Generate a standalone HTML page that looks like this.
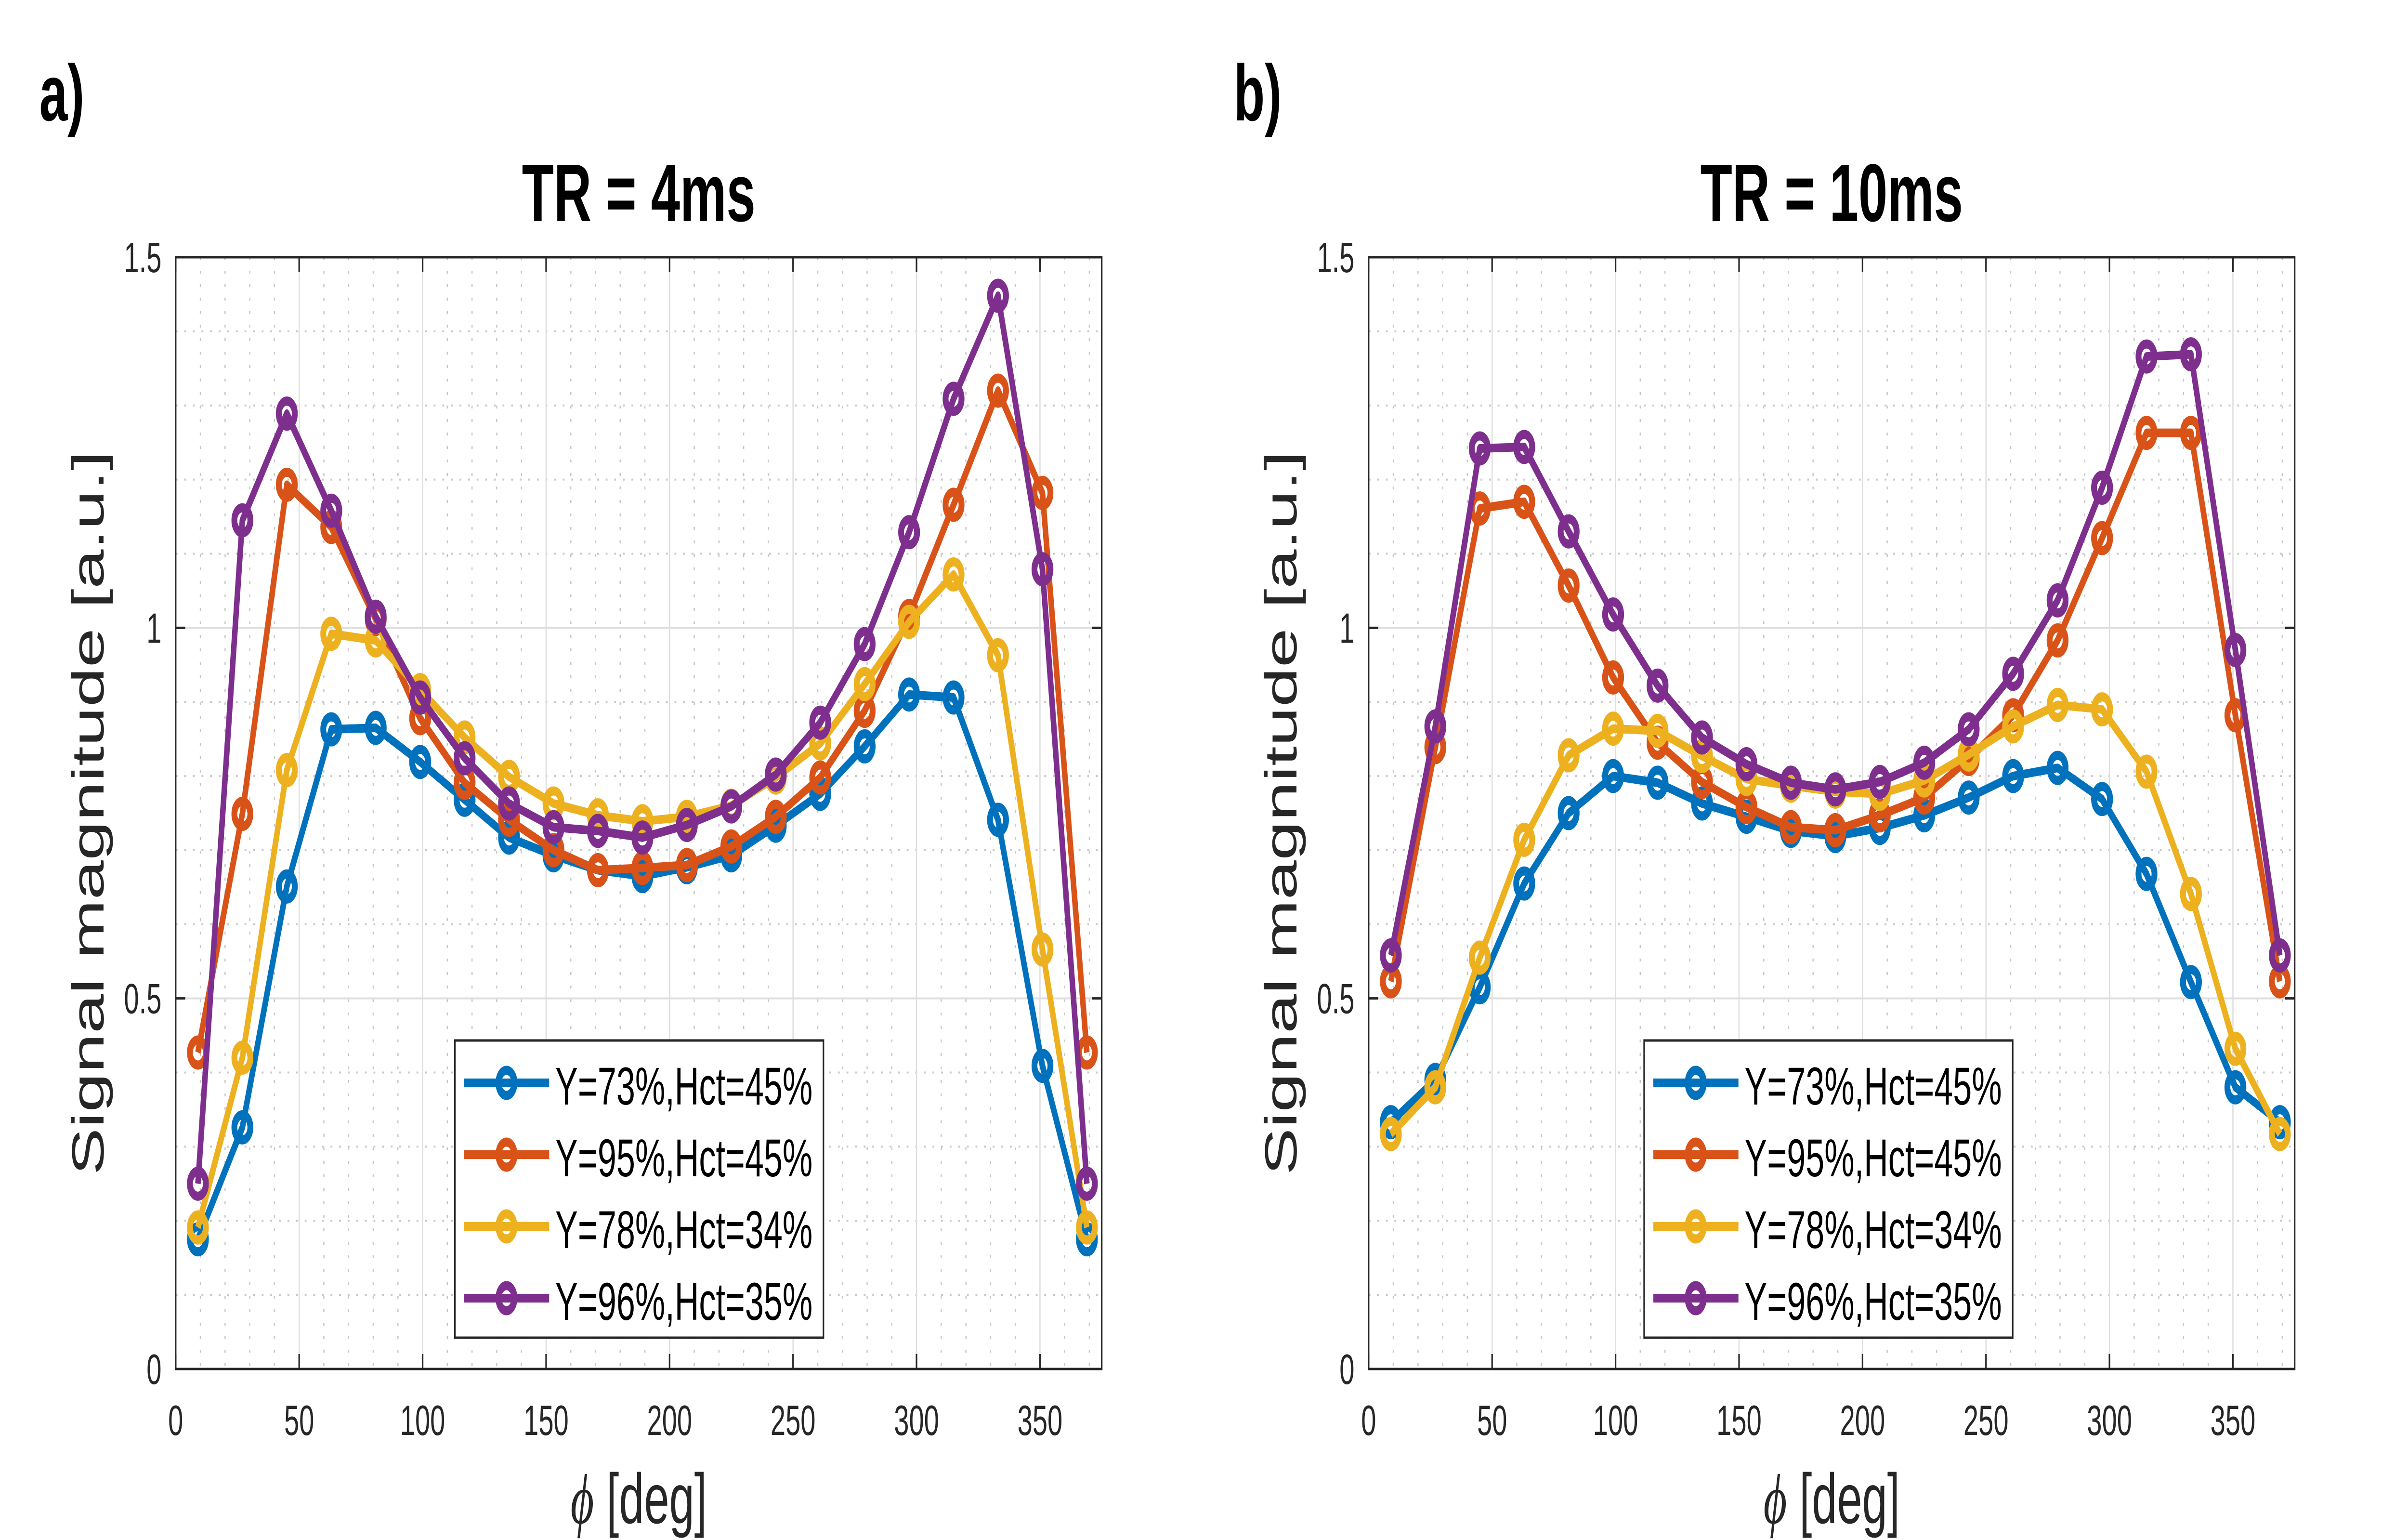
<!DOCTYPE html>
<html><head><meta charset="utf-8"><style>
html,body{margin:0;padding:0;background:#fff;width:100%;height:100%;overflow:hidden}
svg{display:block;width:100vw;height:100vh}
text{font-family:"Liberation Sans",Arial,sans-serif}
</style></head><body>
<svg id="fig" xmlns="http://www.w3.org/2000/svg" viewBox="0 0 7840 3197" preserveAspectRatio="none">
<rect width="7840" height="3197" fill="#fff"/>
</svg>
<script>
const phiDeg = [9,27,45,63,81,99,117,135,153,171,189,207,225,243,261,279,297,315,333,351,369];
const seriesNames = ["Y=73%,Hct=45%","Y=95%,Hct=45%","Y=78%,Hct=34%","Y=96%,Hct=35%"];
const xTicks = [0,50,100,150,200,250,300,350];
const yTicks = [0,0.5,1,1.5];
const yTickLabels = ["0","0.5","1","1.5"];
const tr4Blue   = [0.175,0.326,0.651,0.863,0.865,0.819,0.768,0.717,0.693,0.673,0.665,0.677,0.693,0.733,0.776,0.840,0.910,0.906,0.741,0.409,0.175];
const tr4Orange = [0.427,0.749,1.193,1.136,1.012,0.878,0.791,0.741,0.700,0.673,0.676,0.680,0.705,0.745,0.798,0.888,1.016,1.166,1.320,1.182,0.427];
const tr4Yellow = [0.191,0.420,0.808,0.992,0.983,0.916,0.852,0.799,0.763,0.747,0.739,0.745,0.760,0.798,0.844,0.924,1.008,1.072,0.963,0.566,0.191];
const tr4Purple = [0.250,1.145,1.289,1.158,1.015,0.906,0.824,0.763,0.731,0.726,0.717,0.734,0.759,0.802,0.872,0.978,1.129,1.309,1.448,1.079,0.250];
const tr10Blue   = [0.333,0.390,0.515,0.655,0.750,0.800,0.791,0.763,0.745,0.726,0.719,0.730,0.747,0.771,0.800,0.811,0.769,0.668,0.522,0.380,0.333];
const tr10Orange = [0.523,0.839,1.161,1.170,1.057,0.933,0.845,0.792,0.758,0.731,0.727,0.747,0.771,0.823,0.882,0.983,1.121,1.263,1.263,0.882,0.523];
const tr10Yellow = [0.317,0.380,0.555,0.714,0.828,0.864,0.861,0.827,0.796,0.787,0.779,0.776,0.794,0.829,0.867,0.896,0.890,0.806,0.641,0.432,0.317];
const tr10Purple = [0.558,0.867,1.242,1.244,1.130,1.018,0.922,0.852,0.816,0.791,0.782,0.792,0.818,0.863,0.938,1.037,1.189,1.366,1.369,0.970,0.558];

const colors = ["#0072BD","#D95319","#EDB120","#7E2F8E"];
const NS = "http://www.w3.org/2000/svg";
const svg = document.getElementById("fig");
function mk(tag, attrs, parent){const e=document.createElementNS(NS,tag);for(const k in attrs)e.setAttribute(k,attrs[k]);(parent||svg).appendChild(e);return e;}

function panel(cfg){
  const L=cfg.left, R=L+3015, T=534, B=2842;
  const xs=v=>L+(v/375)*(R-L);
  const ys=v=>B-(v/1.5)*(B-T);
  const g=mk("g",{});
  
  
  for(let v=10;v<375;v+=10){ if(v%50===0) continue;
    const l=mk("line",{x1:xs(v),x2:xs(v),y1:T,y2:B,stroke:"#c8c8c8","stroke-width":4,"stroke-dasharray":"6 22"},g);
     }
  for(let i=1;i<15;i++){ if(i%5===0) continue; const v=i/10;
    const l=mk("line",{x1:L,x2:R,y1:ys(v),y2:ys(v),stroke:"#c8c8c8","stroke-width":4,"stroke-dasharray":"6 22"},g);
     }
  xTicks.forEach(v=>{const l=mk("line",{x1:xs(v),x2:xs(v),y1:T,y2:B,stroke:"#dedede","stroke-width":4},g);
     });
  yTicks.forEach(v=>{const l=mk("line",{x1:L,x2:R,y1:ys(v),y2:ys(v),stroke:"#dedede","stroke-width":4},g);
     });
  cfg.data.forEach((arr,si)=>{
    const pts=arr.map((v,i)=>xs(phiDeg[i])+","+ys(v)).join(" ");
    const pl=mk("polyline",{points:pts,fill:"none",stroke:colors[si],"stroke-width":18,"stroke-linejoin":"round"},g);
    
    
    arr.forEach((v,i)=>{
      const c=mk("circle",{cx:xs(phiDeg[i]),cy:ys(v),r:26,fill:"none",stroke:colors[si],"stroke-width":19},g);
      
      
    });
  });
  const box=mk("rect",{x:L,y:T,width:R-L,height:B-T,fill:"none",stroke:"#262626","stroke-width":5},g);
   
  xTicks.forEach(v=>{
    mk("line",{x1:xs(v),x2:xs(v),y1:B,y2:B-31,stroke:"#262626","stroke-width":5},g);
    mk("line",{x1:xs(v),x2:xs(v),y1:T,y2:T+31,stroke:"#262626","stroke-width":5},g);
    const t=mk("text",{x:xs(v),y:2979,"font-size":88,fill:"#262626","text-anchor":"middle"},g);
    t.textContent=String(v);
     
  });
  yTicks.forEach((v,i)=>{
    mk("line",{x1:L,x2:L+31,y1:ys(v),y2:ys(v),stroke:"#262626","stroke-width":5},g);
    mk("line",{x1:R,x2:R-31,y1:ys(v),y2:ys(v),stroke:"#262626","stroke-width":5},g);
    const t=mk("text",{x:L-46,y:ys(v)+31,"font-size":88,fill:"#262626","text-anchor":"end"},g);
    t.textContent=yTickLabels[i];
     
  });
  const ti=mk("text",{x:(L+R)/2,y:459,"font-size":170,"font-weight":"bold",fill:"#000","text-anchor":"middle"},g);
  ti.textContent=cfg.title;  
  const pl=mk("text",{x:cfg.letterX,y:250,"font-size":165,"font-weight":"bold",fill:"#000"},g);
  pl.textContent=cfg.letter;  
  const yl=mk("text",{x:0,y:0,"font-size":147,fill:"#262626","text-anchor":"middle",transform:`translate(${L-235},${(T+B)/2}) rotate(-90)`},g);
  yl.textContent="Signal magnitude [a.u.]";  
  const xl=mk("text",{x:(L+R)/2,y:3162,"font-size":147,fill:"#262626","text-anchor":"middle"},g);
  const phi=mk("tspan",{"font-family":"'Liberation Serif',serif","font-style":"italic"},xl); phi.textContent="ϕ";
  const rest=mk("tspan",{},xl); rest.textContent=" [deg]";
   
  const lx=cfg.legendX, ly=2160;
  const lg=mk("g",{},g);  
  mk("rect",{x:lx,y:ly,width:1200,height:617,fill:"#fff",stroke:"#262626","stroke-width":5},lg);
  seriesNames.forEach((n,i)=>{
    const cy=ly+88+i*149;
    const e=mk("g",{},lg);  
    mk("line",{x1:lx+30,x2:lx+307,y1:cy,y2:cy,stroke:colors[i],"stroke-width":18},e);
    mk("circle",{cx:lx+168,cy:cy,r:26,fill:"none",stroke:colors[i],"stroke-width":19},e);
    const t=mk("text",{x:lx+327,y:cy+45,"font-size":110,fill:"#000"},e); t.textContent=n;
  });
}
panel({id:"tr4",left:572,title:"TR = 4ms",letter:"a)",letterX:128,legendX:1481,data:[tr4Blue,tr4Orange,tr4Yellow,tr4Purple]});
panel({id:"tr10",left:4456,title:"TR = 10ms",letter:"b)",letterX:4017,legendX:5353,data:[tr10Blue,tr10Orange,tr10Yellow,tr10Purple]});
</script>
</body></html>
